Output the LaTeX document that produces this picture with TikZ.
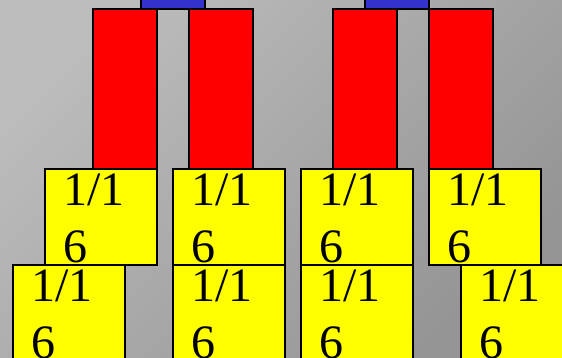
\documentclass[tikz,border=0pt]{standalone}
\usepackage{fontspec}
\setmainfont{Liberation Serif}
\definecolor{bluec}{RGB}{51,51,204}
\definecolor{redc}{RGB}{255,0,0}
\definecolor{yelc}{RGB}{255,255,0}
\definecolor{bgul}{RGB}{188,188,188}
\definecolor{bglr}{RGB}{148,148,148}
\begin{document}
\begin{tikzpicture}[x=1pt,y=-1pt,
  box/.style={draw=black,line width=2pt,inner sep=0pt,anchor=north west},
  bluebox/.style={box,fill=bluec,minimum width=64pt,minimum height=60pt},
  redbox/.style={box,fill=redc,minimum width=64pt,minimum height=160pt},
  yelbox/.style={box,fill=yelc,minimum width=112pt,minimum height=96pt},
  fractext/.style={anchor=base west,inner sep=0pt,font=\fontsize{48}{57}\selectfont}]
\useasboundingbox (0,0) rectangle (562,358);
\clip (0,0) rectangle (562,358);
\shade[top color=bgul,bottom color=bglr,shading angle=45] (0,0) rectangle (562,358);
% blue boxes
\node[bluebox] (b1) at (139.5,-52) {};
\node[bluebox] (b2) at (363.5,-52) {};
% red boxes
\node[redbox] (r1) at (91.5,8) {};
\node[redbox] (r2) at (187.5,8) {};
\node[redbox] (r3) at (331.5,8) {};
\node[redbox] (r4) at (427.5,8) {};
% yellow boxes, top row
\foreach \n/\x in {ya/43.5,yb/171.5,yc/299.5,yd/427.5}{
  \node[yelbox] (\n) at (\x,168) {};
  \node[fractext] (\n-top) at (\x+19.5,205.5) {1/1};
  \node[fractext] (\n-bot) at (\x+19.5,262) {6};
}
% yellow boxes, bottom row
\foreach \n/\x in {ye/11.5,yf/171.5,yg/299.5,yh/459.5}{
  \node[yelbox] (\n) at (\x,264) {};
  \node[fractext] (\n-top) at (\x+19.5,301.5) {1/1};
  \node[fractext] (\n-bot) at (\x+19.5,358) {6};
}
\end{tikzpicture}
\end{document}
